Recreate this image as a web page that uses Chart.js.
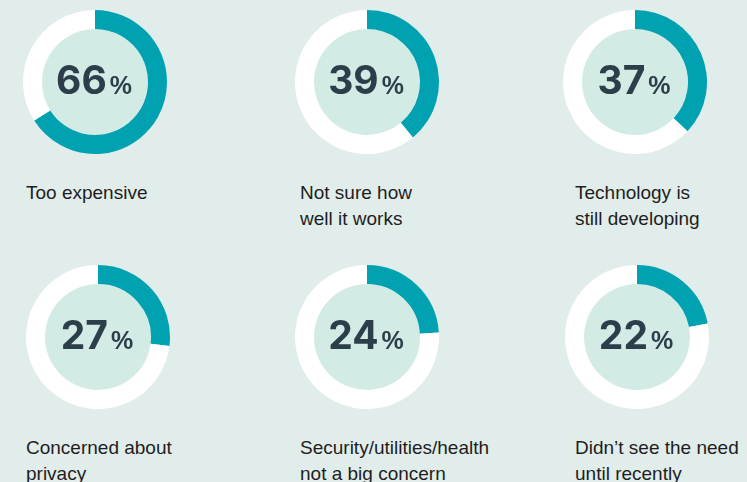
<!DOCTYPE html>
<html>
<head>
<meta charset="utf-8">
<script src="https://cdn.jsdelivr.net/npm/chart.js@4"></script>
<style>
  html, body { margin: 0; padding: 0; }
  body {
    width: 747px; height: 482px; overflow: hidden; position: relative;
    background: #e0edea;
    font-family: "Liberation Sans", Arial, Helvetica, sans-serif;
  }
  .ring { position: absolute; width: 150px; height: 150px; }
  .caption {
    position: absolute; font-size: 19px; line-height: 26px; color: #1f1d1e;
    white-space: nowrap;
  }
</style>
</head>
<body>
<script>
// reasons given, share of respondents (%)
const reasons = [
  ['Too expensive'],
  ['Not sure how', 'well it works'],
  ['Technology is', 'still developing'],
  ['Concerned about', 'privacy'],
  ['Security/utilities/health', 'not a big concern'],
  ['Didn\u2019t see the need', 'until recently']
];
const shares = [66, 39, 37, 27, 24, 22];

const TEAL = '#00a2b1';
const INNER = '#d3ebe5';
const INK = '#2c3e4a';
const NUM_FONT = 'bold 39px Inter, "Liberation Sans", Arial, sans-serif';
const PCT_FONT = 'bold 25px "Liberation Sans", Arial, sans-serif';

// grid placement of each ring (center points) and its caption
const centers = [[95, 82], [367, 82], [635, 82], [98, 337], [367, 337], [637, 337]];
const captionLeft = [26, 300, 575, 26, 300, 575];
const captionTop = [180, 180, 180, 435, 435, 435];

// fills the hole and writes the value in the middle
const centerFill = {
  id: 'centerFill',
  beforeDatasetsDraw(chart) {
    const arc = chart.getDatasetMeta(0).data[0];
    const ctx = chart.ctx;
    ctx.save();
    ctx.beginPath();
    ctx.arc(arc.x, arc.y, arc.innerRadius, 0, Math.PI * 2);
    ctx.fillStyle = INNER;
    ctx.fill();
    ctx.restore();
  },
  afterDatasetsDraw(chart) {
    const arc = chart.getDatasetMeta(0).data[0];
    const ctx = chart.ctx;
    const num = String(chart.data.datasets[0].data[0]);
    ctx.save();
    ctx.fillStyle = INK;
    ctx.textBaseline = 'alphabetic';
    ctx.font = NUM_FONT;
    const wNum = ctx.measureText(num).width;
    ctx.font = PCT_FONT;
    const wPct = ctx.measureText('%').width;
    const gap = 3;
    const x = arc.x - 1 - (wNum + gap + wPct) / 2;
    const base = arc.y + 12;
    ctx.font = NUM_FONT;
    ctx.fillText(num, x, base);
    ctx.font = PCT_FONT;
    ctx.fillText('%', x + wNum + gap, base);
    ctx.restore();
  }
};

shares.forEach((v, i) => {
  const canvas = document.createElement('canvas');
  canvas.className = 'ring';
  canvas.width = 150;
  canvas.height = 150;
  canvas.style.left = (centers[i][0] - 75) + 'px';
  canvas.style.top = (centers[i][1] - 75) + 'px';
  document.body.appendChild(canvas);

  new Chart(canvas.getContext('2d'), {
    type: 'doughnut',
    data: {
      labels: ['yes', 'no'],
      datasets: [{
        data: [v, 100 - v],
        backgroundColor: [TEAL, '#ffffff'],
        borderWidth: 0
      }]
    },
    options: {
      responsive: false,
      animation: false,
      devicePixelRatio: 1,
      cutout: 53,
      layout: { padding: 3 },
      plugins: { legend: { display: false }, tooltip: { enabled: false } }
    },
    plugins: [centerFill]
  });

  const cap = document.createElement('div');
  cap.className = 'caption';
  cap.style.left = captionLeft[i] + 'px';
  cap.style.top = captionTop[i] + 'px';
  cap.innerHTML = reasons[i].join('<br>');
  document.body.appendChild(cap);
});
</script>
</body>
</html>
